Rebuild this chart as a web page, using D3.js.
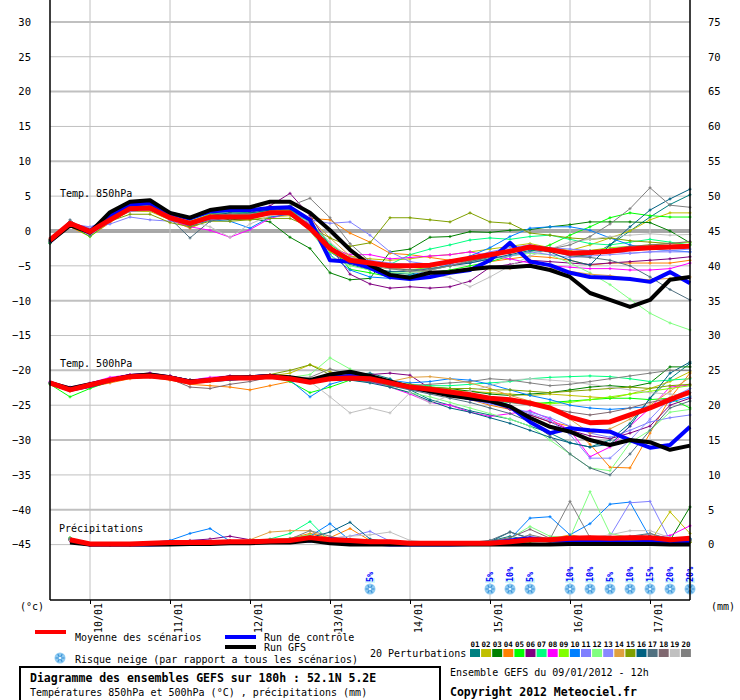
<!DOCTYPE html>
<html>
<head>
<meta charset="utf-8">
<script src="https://cdn.jsdelivr.net/npm/d3@7"></script>
<style>
  body { margin: 0; background: #fff; }
  text { font-family: "DejaVu Sans Mono", monospace; }
</style>
</head>
<body>
<div id="chart"></div>
<script>
const width = 740;
const height = 700;

// Time steps: every 6h from run start (09/01 12h) to +192h
const hours = d3.range(0, 193, 6);
const dayHours = [12, 36, 60, 84, 108, 132, 156, 180];
const dayLabels = ["10/01", "11/01", "12/01", "13/01", "14/01", "15/01", "16/01", "17/01"];

const memberColors = ["#008080", "#c0c000", "#008000", "#ff8000", "#00ff00", "#800080", "#00ff80",
    "#ff00ff", "#80ff00", "#0080ff", "#8080ff", "#80ff80", "#8888ff", "#e0a040", "#80a000",
    "#006080", "#507080", "#806870", "#c0c0c0", "#808080"];

// Temp 850hPa
const t850Mean = [-1.3, 1.1, -0.1, 1.6, 3.2, 3.3, 1.9, 1.1, 2.0, 2.0, 2.0, 2.6, 2.6, 0.4, -2.5, -4.2, -4.6, -5.0, -5.0, -4.9, -4.4, -3.9, -3.4, -2.9, -2.3, -2.7, -3.2, -3.1, -2.9, -2.6, -2.4, -2.3, -2.2];
const t850Control = [-1.5, 1.0, 0.0, 2.2, 3.8, 4.0, 2.5, 1.8, 2.8, 3.0, 3.0, 3.3, 3.4, 1.6, -4.2, -4.4, -5.3, -6.6, -6.9, -6.6, -6.0, -5.6, -4.2, -1.7, -4.4, -4.9, -6.0, -6.6, -6.7, -6.9, -7.3, -5.9, -7.5];
const t850Gfs = [-1.5, 0.8, -0.2, 2.7, 4.2, 4.4, 2.6, 1.9, 3.0, 3.4, 3.4, 4.2, 4.2, 2.6, 0.1, -2.7, -4.9, -6.3, -6.7, -6.0, -5.9, -5.5, -5.2, -5.2, -5.0, -5.6, -6.6, -8.9, -9.9, -10.9, -9.9, -7.0, -6.6];
const t850Members = [
    [-1.6, 1.2, 0.2, 2.2, 3.8, 4.0, 2.2, 1.0, 2.5, 2.6, 2.4, 3.0, 3.0, 1.0, -3.0, -4.8, -5.6, -6.0, -6.2, -5.6, -5.0, -4.4, -3.6, -3.0, -2.6, -2.8, -3.4, -3.6, -2.0, 0.0, 2.0, 3.8, 5.2],
    [-1.2, 0.8, -0.3, 1.4, 2.8, 2.8, 1.6, 0.6, 1.8, 1.8, 1.6, 2.0, 2.2, 0.8, -2.0, -3.6, -4.0, -4.2, -4.0, -3.6, -3.4, -3.0, -2.6, -2.2, -1.8, -2.4, -2.8, -2.0, -1.0, 0.0, 1.6, 2.6, 2.6],
    [-1.4, 1.0, 0.0, 1.8, 3.4, 3.6, 2.0, 1.4, 2.0, 1.6, 1.8, 1.3, -0.9, -2.5, -6.0, -7.0, -6.8, -3.0, -2.6, -0.9, -0.8, -0.1, -0.2, 0.1, 0.2, 0.6, 0.9, 1.3, 1.3, 1.3, 1.2, 0.0, -1.7],
    [-1.6, 0.6, -0.8, 1.2, 3.0, 3.4, 1.6, 0.4, 1.6, 2.0, 2.2, 2.6, 2.8, 1.8, 1.6, -0.3, -1.6, -3.2, -3.4, -3.8, -4.2, -4.0, -4.4, -4.0, -3.6, -3.8, -4.2, -4.9, -4.6, -4.6, -4.6, -4.6, -4.2],
    [-1.8, 0.8, -0.8, 1.4, 3.4, 4.0, 2.4, 1.6, 2.8, 3.0, 3.0, 3.0, 3.6, 1.5, -2.0, -5.5, -6.0, -6.6, -6.4, -6.0, -5.6, -5.0, -4.4, -3.6, -3.0, -2.0, -0.6, 0.6, 1.9, 2.6, 2.2, 2.0, 2.0],
    [-1.4, 1.2, 0.4, 2.0, 3.4, 3.4, 1.8, 0.8, 1.8, 2.0, 2.6, 3.6, 5.4, 2.2, -2.2, -6.2, -7.6, -8.2, -8.0, -8.2, -8.0, -7.2, -5.2, -4.8, -4.2, -4.4, -4.6, -4.8, -4.6, -4.4, -4.2, -4.0, -3.7],
    [-1.6, 1.0, -0.2, 1.8, 3.2, 3.4, 2.0, 1.6, 2.6, 2.8, 2.6, 2.8, 3.0, 1.2, -1.8, -4.0, -5.0, -4.8, -3.4, -2.6, -2.0, -1.3, -1.0, -1.2, -0.8, -0.6, -1.2, -1.8, -2.0, -1.6, -1.2, -1.6, -2.0],
    [-1.5, 0.8, -0.6, 1.4, 3.0, 3.2, 1.6, 0.6, 0.1, -0.9, 0.2, 1.8, 2.6, 1.0, -2.5, -3.4, -3.4, -4.0, -3.8, -3.6, -3.4, -3.0, -3.6, -4.0, -4.6, -5.0, -5.2, -5.4, -5.4, -5.6, -5.6, -5.4, -4.6],
    [-1.3, 1.2, 0.2, 1.8, 3.2, 3.4, 2.2, 1.4, 2.4, 2.4, 2.4, 2.8, 3.0, 0.6, -3.0, -4.4, -5.0, -5.4, -5.6, -5.2, -4.6, -4.0, -3.4, -2.8, -2.4, -2.6, -3.0, -2.8, -2.4, -2.2, -2.0, -1.8, -1.6],
    [-1.4, 1.0, 0.0, 2.0, 3.6, 3.8, 2.2, 0.6, 1.6, 1.4, 0.4, 2.0, 2.4, 0.4, -3.4, -5.6, -6.6, -6.8, -6.4, -5.6, -4.8, -3.6, -2.4, -0.8, 0.4, 0.6, 0.6, 0.1, -1.0, -2.0, -2.6, -2.8, -3.0],
    [-1.2, 0.6, 0.4, 1.0, 2.0, 1.6, 1.4, 1.0, 1.6, 1.8, 2.2, 2.6, 2.6, 1.6, 1.1, 1.3, -0.6, -3.0, -4.4, -4.8, -4.4, -3.8, -3.0, -2.4, -2.0, -2.4, -2.6, -2.8, -3.0, -3.2, -3.0, -3.0, -3.0],
    [-1.6, 1.0, -0.2, 1.6, 3.0, 3.2, 2.0, 1.2, 2.2, 2.4, 2.4, 2.6, 2.6, 0.0, -3.6, -5.0, -5.6, -6.0, -6.0, -5.6, -5.0, -4.4, -4.0, -3.6, -3.2, -3.4, -4.6, -6.0, -7.7, -9.8, -11.8, -13.2, -14.2],
    [-1.2, 1.0, 0.6, 1.6, 2.8, 3.0, 1.8, 1.2, 2.0, 2.0, 2.2, 2.6, 2.6, 0.6, -2.4, -3.8, -4.2, -4.6, -4.8, -5.0, -4.8, -4.6, -4.0, -3.6, -3.0, -3.4, -3.8, -3.6, -3.4, -3.2, -3.0, -2.8, -2.6],
    [-1.4, 0.8, -0.4, 1.6, 3.2, 3.4, 1.8, 1.0, 2.0, 2.2, 2.4, 2.8, 3.2, 1.8, -1.0, -3.6, -4.6, -5.2, -5.6, -5.8, -5.8, -5.6, -5.4, -5.4, -5.0, -5.4, -5.8, -6.2, -6.4, -6.8, -7.0, -6.8, -6.6],
    [-1.2, 0.8, 0.0, 1.4, 2.4, 2.4, 1.2, 0.6, 1.4, 1.4, 1.6, 1.8, 1.8, 0.6, -1.0, -2.2, -1.7, 1.9, 1.9, 1.6, 1.3, 2.6, 1.3, 1.1, -0.3, -0.6, -1.0, -1.2, -1.0, -1.4, -1.6, -1.8, -2.0],
    [-1.6, 1.2, 0.0, 2.0, 3.6, 3.8, 2.2, 1.2, 2.2, 2.6, 2.6, 3.0, 3.2, 1.4, -2.4, -4.6, -5.4, -5.8, -5.8, -5.4, -5.0, -4.6, -4.0, -3.4, -2.8, -3.0, -4.2, -4.9, -2.0, 0.6, 3.0, 4.6, 6.0],
    [-1.8, 1.6, -0.6, 1.8, 3.4, 3.6, 1.8, -1.0, 1.4, 2.0, 2.2, 2.6, 2.8, 0.8, -2.2, -4.4, -5.0, -5.4, -5.6, -5.4, -5.0, -4.4, -3.8, -3.0, -2.2, -2.8, -3.6, -3.8, -4.2, -5.0, -6.6, -8.4, -9.9],
    [-1.4, 1.0, 0.2, 1.8, 3.2, 3.4, 2.0, 1.0, 2.0, 2.2, 2.2, 2.6, 2.8, 0.8, -2.6, -4.2, -4.8, -5.2, -5.2, -5.0, -4.6, -4.2, -3.6, -3.0, -2.6, -2.8, -3.2, -3.0, -2.6, -2.2, -2.0, -1.8, -1.5],
    [-1.3, 0.8, 0.4, 1.6, 3.0, 3.2, 2.4, 1.4, 0.6, -0.9, 1.0, 2.2, 2.6, 1.2, -1.6, -4.0, -4.8, -5.4, -5.8, -6.2, -6.7, -8.0, -6.6, -5.0, -3.6, -2.6, -1.6, -1.2, -0.8, -0.6, -0.4, -0.6, -0.5],
    [-1.5, 1.2, 0.0, 2.0, 3.6, 4.2, 2.2, 1.0, 2.2, 2.4, 2.4, 2.8, 3.6, 4.7, 1.9, -1.8, -4.4, -5.4, -5.8, -5.6, -5.0, -4.2, -3.6, -3.0, -2.6, -2.6, -2.0, -0.8, 1.0, 3.2, 6.2, 3.7, 3.4]
];

// Temp 500hPa
const t500Mean = [-21.8, -22.8, -22.1, -21.4, -20.9, -20.8, -21.1, -21.7, -21.4, -21.1, -21.1, -20.9, -21.2, -21.7, -21.2, -21.1, -21.2, -21.8, -22.4, -22.7, -23.1, -23.5, -24.0, -24.2, -24.7, -25.4, -26.7, -27.5, -27.4, -26.4, -25.4, -24.2, -23.1];
const t500Control = [-21.8, -22.8, -22.2, -21.4, -20.8, -20.8, -21.0, -21.6, -21.4, -21.2, -21.0, -20.8, -21.2, -21.6, -21.0, -20.8, -21.2, -21.8, -22.4, -22.8, -23.4, -24.0, -24.4, -25.2, -27.4, -29.0, -28.3, -28.6, -28.8, -30.0, -31.1, -30.7, -28.1];
const t500Gfs = [-21.8, -22.6, -22.0, -21.4, -20.8, -20.6, -21.0, -21.6, -21.4, -21.0, -21.0, -20.8, -21.0, -21.4, -20.6, -20.2, -20.8, -21.6, -22.4, -23.0, -23.6, -24.0, -24.4, -25.2, -26.8, -28.1, -28.8, -30.0, -30.7, -30.0, -30.3, -31.4, -30.8];
const t500Members = [
    [-21.8, -22.6, -22.0, -21.2, -20.8, -20.6, -21.0, -21.4, -21.2, -20.8, -21.0, -20.8, -21.0, -21.6, -21.2, -20.6, -20.4, -21.2, -22.8, -24.2, -25.0, -25.8, -26.4, -27.0, -28.0, -29.0, -30.4, -31.0, -30.0, -27.6, -24.0, -21.2, -19.0],
    [-21.8, -22.8, -22.2, -21.4, -21.0, -20.8, -21.2, -21.6, -21.4, -21.2, -21.0, -20.8, -20.4, -19.2, -20.2, -21.0, -21.4, -22.0, -22.4, -22.6, -22.8, -23.0, -23.2, -23.4, -23.6, -23.4, -23.6, -23.8, -24.0, -23.4, -22.6, -21.6, -20.2],
    [-21.8, -22.6, -22.0, -21.4, -20.8, -20.6, -20.8, -21.4, -21.2, -21.0, -21.0, -20.8, -21.0, -21.4, -21.2, -21.4, -21.6, -22.0, -22.2, -22.4, -22.6, -23.0, -23.4, -23.6, -23.4, -23.2, -22.8, -22.4, -22.2, -22.4, -21.8, -19.5, -19.5],
    [-21.8, -23.0, -22.4, -21.8, -21.2, -21.0, -21.4, -22.0, -22.2, -22.4, -22.8, -22.2, -21.6, -21.4, -21.0, -21.2, -21.6, -22.2, -22.6, -23.0, -23.6, -24.2, -25.0, -25.6, -26.4, -27.4, -28.0, -30.6, -33.9, -34.0, -29.0, -24.0, -20.4],
    [-22.0, -23.8, -22.6, -21.6, -21.0, -20.8, -21.2, -21.8, -21.6, -21.4, -21.2, -21.0, -21.6, -23.2, -22.4, -21.4, -21.4, -22.2, -22.6, -23.0, -23.6, -24.0, -24.4, -24.6, -24.8, -24.6, -24.4, -24.2, -24.0, -24.0, -24.2, -24.0, -25.4],
    [-21.8, -22.6, -22.0, -21.2, -20.6, -20.4, -20.8, -21.4, -21.2, -21.0, -20.8, -20.6, -21.0, -21.4, -21.0, -20.8, -20.6, -20.4, -20.7, -22.6, -23.2, -23.8, -24.6, -25.6, -26.4, -27.4, -28.6, -29.4, -29.8, -29.0, -28.0, -25.0, -24.0],
    [-21.8, -22.8, -22.0, -21.4, -20.8, -20.6, -21.0, -21.6, -21.4, -21.0, -21.0, -20.8, -21.0, -21.4, -21.0, -21.0, -21.4, -21.8, -22.0, -22.2, -22.2, -22.0, -21.8, -21.6, -21.2, -21.0, -20.9, -20.8, -20.9, -21.2, -21.6, -21.4, -21.2],
    [-21.6, -22.4, -21.8, -21.0, -20.6, -20.4, -20.8, -21.4, -21.0, -20.8, -20.8, -20.6, -21.0, -21.4, -21.2, -21.2, -21.6, -22.4, -23.4, -24.6, -25.0, -26.0, -26.6, -26.2, -25.8, -27.0, -28.6, -32.4, -31.0, -28.0, -25.4, -22.4, -22.1],
    [-21.8, -22.6, -22.0, -21.4, -20.8, -20.8, -21.0, -21.6, -21.4, -21.0, -21.0, -20.8, -21.0, -21.6, -21.0, -21.0, -21.2, -21.8, -22.4, -22.8, -23.2, -23.6, -24.0, -24.4, -24.6, -24.8, -24.6, -24.2, -23.8, -23.4, -23.0, -22.6, -22.2],
    [-21.8, -22.8, -22.2, -21.4, -21.0, -20.8, -21.0, -21.6, -21.4, -21.2, -21.0, -20.8, -21.4, -23.8, -22.0, -21.2, -21.0, -21.4, -21.8, -21.6, -21.2, -21.4, -22.0, -22.8, -23.6, -24.2, -25.0, -25.4, -25.6, -25.4, -25.2, -24.6, -23.8],
    [-21.8, -22.6, -22.0, -21.4, -20.8, -20.6, -21.0, -21.6, -21.4, -21.2, -21.0, -20.8, -21.0, -21.6, -21.2, -21.0, -21.2, -22.0, -22.8, -23.2, -23.6, -24.2, -24.8, -25.4, -26.0, -26.8, -28.0, -29.0, -29.6, -28.6, -27.4, -26.8, -26.4],
    [-21.8, -22.8, -22.2, -21.4, -20.8, -20.6, -21.0, -21.6, -21.4, -21.2, -21.0, -20.8, -21.0, -20.6, -18.2, -19.8, -21.2, -22.4, -23.2, -23.8, -24.6, -25.4, -26.2, -27.0, -28.0, -30.0, -32.0, -34.0, -34.4, -30.4, -28.6, -26.0, -25.6],
    [-21.8, -22.6, -22.0, -21.4, -20.8, -20.6, -21.0, -21.6, -21.4, -21.0, -21.0, -20.8, -21.0, -21.4, -21.0, -21.0, -21.4, -22.0, -22.6, -23.0, -23.6, -24.2, -24.8, -25.4, -26.2, -27.2, -29.2, -32.6, -32.6, -30.0, -27.0, -24.0, -22.6],
    [-21.8, -22.8, -22.2, -21.4, -20.8, -20.6, -21.0, -21.6, -21.6, -21.4, -21.2, -21.0, -21.2, -21.6, -21.0, -21.0, -21.2, -21.6, -21.0, -20.9, -21.2, -21.8, -22.6, -23.6, -24.4, -25.4, -27.0, -29.0, -28.4, -27.0, -25.0, -23.0, -21.0],
    [-21.8, -22.6, -22.0, -21.4, -20.8, -20.6, -21.0, -21.4, -21.2, -21.0, -20.8, -20.6, -20.0, -19.2, -20.6, -21.0, -21.2, -21.6, -22.0, -22.4, -22.6, -22.6, -22.8, -22.8, -23.0, -23.2, -23.0, -22.8, -22.6, -22.4, -22.6, -22.2, -22.0],
    [-21.8, -22.8, -22.2, -21.4, -20.8, -20.6, -21.0, -21.6, -21.4, -21.2, -21.0, -20.8, -21.0, -21.6, -21.4, -21.4, -21.8, -22.4, -23.2, -24.4, -25.4, -26.0, -26.8, -27.6, -28.6, -29.6, -30.4, -31.0, -30.6, -28.0, -24.0, -20.4, -18.8],
    [-21.8, -22.8, -22.2, -21.6, -21.0, -20.8, -21.2, -21.8, -21.6, -21.2, -21.0, -20.8, -21.0, -21.6, -21.2, -21.2, -21.6, -22.2, -22.8, -23.4, -24.0, -24.6, -25.4, -26.2, -27.4, -29.4, -32.0, -34.0, -35.0, -32.0, -28.6, -25.4, -24.4],
    [-21.8, -22.8, -22.2, -21.4, -20.8, -20.8, -21.2, -22.4, -22.6, -22.0, -21.6, -21.0, -21.2, -21.6, -21.0, -21.0, -21.4, -22.0, -22.6, -23.0, -23.4, -23.8, -24.2, -24.6, -25.0, -25.4, -26.0, -26.4, -26.0, -25.4, -24.6, -24.0, -23.2],
    [-21.8, -22.6, -22.0, -21.4, -20.8, -20.6, -21.0, -21.6, -21.4, -21.0, -21.0, -20.8, -21.0, -21.6, -23.8, -26.1, -25.4, -26.1, -23.2, -24.7, -23.6, -23.0, -22.2, -21.4, -21.2, -21.4, -21.6, -22.0, -22.4, -22.8, -23.2, -23.4, -23.6],
    [-21.8, -22.8, -22.2, -21.4, -20.8, -20.6, -21.0, -21.6, -21.4, -21.0, -21.0, -20.8, -21.0, -21.0, -19.8, -20.6, -21.2, -21.8, -22.2, -22.0, -21.8, -21.6, -21.2, -21.4, -21.8, -22.2, -22.0, -21.6, -21.2, -20.8, -20.4, -20.0, -20.0]
];

// Precipitation (mm), no value at run start
const precMean = [null, 0.7, 0.1, 0.1, 0.1, 0.2, 0.3, 0.3, 0.3, 0.4, 0.4, 0.5, 0.6, 1.0, 0.7, 0.6, 0.4, 0.4, 0.2, 0.2, 0.2, 0.2, 0.2, 0.4, 0.7, 0.7, 0.9, 1.0, 0.9, 1.0, 1.0, 0.7, 0.9];
const precControl = [null, 0.6, 0, 0, 0, 0, 0.1, 0.2, 0.3, 0.3, 0.4, 0.4, 0.5, 0.6, 0.8, 0.4, 0.2, 0, 0, 0, 0, 0.1, 0.2, 0.6, 0.9, 0.6, 0.5, 0.4, 0.4, 0.3, 0.4, 0.2, 0.3];
const precGfs = [null, 0.3, 0, 0, 0, 0, 0, 0.1, 0.1, 0.2, 0.2, 0.3, 0.3, 0.6, 0.2, 0, 0, 0, 0, 0, 0, 0, 0, 0, 0, 0, 0.1, 0.1, 0.1, 0.1, 0.1, 0, 0];
const precMembers = [
    [null, 0.8, 0, 0, 0, 0.1, 0.2, 0.3, 0.4, 0.2, 0.3, 0.5, 0.6, 1.0, 0.8, 0.4, 0.3, 0.2, 0.1, 0.1, 0.2, 0.3, 0.5, 1.2, 0.6, 0.4, 0.8, 0.6, 1.0, 0.4, 0.6, 0.3, 0.8],
    [null, 0.6, 0, 0, 0, 0.2, 0.3, 0.2, 0.2, 0.4, 0.4, 0.6, 0.5, 0.7, 0.5, 0.3, 0.2, 0.1, 0, 0, 0.1, 0.1, 0.2, 0.3, 0.5, 0.4, 0.6, 0.8, 0.5, 0.7, 0.4, 4.7, 1.6],
    [null, 0.7, 0, 0, 0.1, 0.1, 0.2, 0.3, 0.3, 0.5, 0.6, 0.4, 0.6, 1.2, 0.4, 0.3, 0.2, 0.1, 0.1, 0.2, 0.1, 0.2, 0.3, 0.2, 0.6, 0.5, 0.8, 0.6, 0.6, 0.8, 0.5, 0.6, 5.4],
    [null, 0.9, 0.1, 0, 0, 0.3, 0.4, 0.3, 0.5, 0.6, 0.4, 0.7, 0.9, 1.6, 1.0, 2.3, 0.6, 0.3, 0.2, 0.1, 0.1, 0.2, 0.3, 0.4, 0.5, 0.8, 1.4, 0.9, 1.2, 0.7, 0.5, 0.4, 0.3],
    [null, 1.0, 0, 0, 0, 0.2, 0.3, 0.4, 0.2, 0.3, 0.5, 0.5, 0.8, 1.4, 0.3, 0.2, 0.2, 0.2, 0.1, 0.2, 0.2, 0.1, 0.1, 0.2, 0.4, 0.5, 0.4, 0.3, 0.6, 0.4, 0.3, 0.2, 0.4],
    [null, 0.7, 0, 0, 0, 0.3, 0.5, 0.6, 0.8, 1.2, 0.7, 0.6, 0.5, 0.9, 0.6, 0.4, 0.2, 0.1, 0.2, 0.2, 0.1, 0.2, 0.3, 0.6, 0.9, 0.7, 0.6, 0.8, 0.5, 0.9, 0.8, 0.6, 0.5],
    [null, 0.8, 0, 0, 0, 0.1, 0.2, 0.3, 0.3, 0.4, 0.3, 0.8, 1.6, 3.3, 0.4, 0.3, 0.2, 0.2, 0.1, 0.1, 0.2, 0.2, 0.3, 0.5, 0.6, 0.8, 1.0, 0.7, 0.8, 0.6, 0.9, 0.7, 0.6],
    [null, 0.6, 0, 0, 0, 0.2, 0.4, 0.4, 0.6, 0.5, 0.4, 0.5, 0.6, 0.8, 0.6, 0.5, 0.3, 0.2, 0.2, 0.1, 0.1, 0.2, 0.2, 0.3, 0.5, 0.6, 0.9, 1.0, 0.7, 0.8, 1.0, 1.3, 2.7],
    [null, 0.7, 0, 0, 0, 0.1, 0.2, 0.3, 0.3, 0.4, 0.5, 0.5, 0.7, 1.2, 0.9, 0.4, 0.3, 0.2, 0.1, 0.1, 0.1, 0.1, 0.2, 0.4, 0.6, 0.5, 0.7, 0.6, 0.6, 0.5, 0.7, 0.4, 0.6],
    [null, 0.8, 0, 0, 0.1, 0.3, 0.6, 1.6, 2.3, 0.5, 0.4, 0.6, 0.8, 1.2, 3.0, 0.6, 0.4, 0.2, 0.1, 0.1, 0.2, 0.3, 0.4, 0.8, 3.8, 4.0, 1.4, 3.0, 5.8, 6.1, 1.0, 0.6, 0.8],
    [null, 0.6, 0, 0, 0, 0.1, 0.2, 0.2, 0.3, 0.4, 0.3, 0.5, 0.6, 0.8, 0.9, 1.2, 1.9, 0.5, 0.2, 0.1, 0.1, 0.1, 0.2, 0.4, 0.7, 0.9, 0.8, 1.0, 1.2, 6.0, 6.2, 0.6, 0.8],
    [null, 0.9, 0, 0, 0, 0.2, 0.3, 0.3, 0.4, 0.3, 0.4, 0.6, 0.9, 1.4, 0.3, 0.2, 0.1, 0.1, 0.1, 0.2, 0.2, 0.3, 0.4, 0.9, 2.6, 1.2, 1.0, 7.6, 1.6, 1.0, 0.8, 0.6, 0.4],
    [null, 0.7, 0, 0, 0, 0.1, 0.2, 0.3, 0.4, 0.3, 0.4, 0.4, 0.5, 0.7, 0.8, 0.6, 0.4, 0.3, 0.2, 0.1, 0.1, 0.2, 0.3, 0.5, 0.6, 0.7, 0.6, 0.8, 0.7, 0.9, 0.6, 0.5, 0.4],
    [null, 0.8, 0, 0, 0, 0.2, 0.4, 0.5, 0.6, 0.5, 0.7, 1.8, 2.0, 2.0, 0.6, 0.4, 0.3, 0.2, 0.1, 0.1, 0.1, 0.2, 0.3, 0.4, 0.6, 0.5, 0.7, 0.9, 0.8, 0.6, 0.7, 0.5, 0.4],
    [null, 0.6, 0, 0, 0, 0.1, 0.2, 0.2, 0.3, 0.4, 0.4, 0.5, 0.6, 0.9, 0.6, 0.3, 0.2, 0.1, 0.1, 0.1, 0.1, 0.1, 0.2, 0.3, 0.4, 0.5, 0.6, 0.4, 0.5, 0.6, 0.5, 0.4, 0.3],
    [null, 0.7, 0, 0, 0, 0.1, 0.3, 0.4, 0.3, 0.5, 0.4, 0.6, 0.8, 1.0, 1.8, 3.2, 0.8, 0.3, 0.2, 0.1, 0.1, 0.2, 0.4, 1.8, 0.9, 0.8, 1.2, 1.1, 1.0, 0.9, 1.2, 1.0, 0.8],
    [null, 0.9, 0, 0, 0, 0.2, 0.3, 0.4, 0.4, 0.4, 0.5, 0.6, 0.7, 1.0, 0.7, 0.5, 0.3, 0.2, 0.2, 0.2, 0.2, 0.3, 0.6, 1.8, 0.9, 0.7, 0.8, 1.0, 0.9, 1.2, 1.6, 0.8, 0.6],
    [null, 0.7, 0, 0, 0, 0.1, 0.2, 0.3, 0.3, 0.4, 0.4, 0.5, 0.7, 1.2, 0.8, 0.6, 0.4, 0.3, 0.2, 0.2, 0.1, 0.2, 0.5, 1.0, 2.2, 0.9, 0.7, 0.6, 0.8, 0.7, 0.6, 0.9, 0.7],
    [null, 0.6, 0, 0, 0, 0.1, 0.2, 0.2, 0.3, 0.3, 0.4, 0.4, 0.5, 0.8, 0.9, 1.2, 1.4, 1.8, 0.6, 0.3, 0.2, 0.2, 0.3, 0.4, 0.6, 0.5, 0.8, 1.0, 1.4, 2.0, 2.0, 1.0, 0.6],
    [null, 0.8, 0, 0, 0, 0.2, 0.3, 0.3, 0.4, 0.4, 0.5, 0.6, 0.8, 2.0, 1.2, 0.5, 0.3, 0.2, 0.1, 0.1, 0.2, 0.2, 0.3, 0.6, 1.4, 0.8, 6.2, 1.0, 0.8, 0.9, 1.6, 0.7, 0.6]
];

// Snow risk (hour, % of scenarios)
const snowHours = [96, 132, 138, 144, 156, 162, 168, 174, 180, 186, 192];
const snowPct = [5, 5, 10, 5, 10, 10, 5, 10, 15, 20, 20];

const svg = d3.select("#chart")
    .append("svg")
    .attr("width", width)
    .attr("height", height)
    .style("display", "block");

svg.append("rect").attr("width", width).attr("height", height).attr("fill", "#fff");

const x = d3.scaleLinear().domain([0, 192]).range([50, 690]);
const y = d3.scaleLinear().domain([-45, 30]).range([544.6, 21.9]);
// precip shares the scale: 0 mm sits on the -45 line
const yp = d => y(-45 + d);

// horizontal grid
const gridVals = d3.range(-45, 36, 5);
svg.append("g")
    .selectAll("line")
    .data(gridVals.filter(d => d !== 0))
    .join("line")
    .attr("x1", 50).attr("x2", 690)
    .attr("y1", d => y(d)).attr("y2", d => y(d))
    .attr("stroke", "#c0c0c0")
    .attr("stroke-width", d => d % 10 === 0 ? 2 : 1);

// zero line drawn doubled
svg.append("line").attr("x1", 50).attr("x2", 690).attr("y1", y(0)).attr("y2", y(0))
    .attr("stroke", "#8c8c8c").attr("stroke-width", 3.5);
svg.append("line").attr("x1", 50).attr("x2", 690).attr("y1", y(0)).attr("y2", y(0))
    .attr("stroke", "#c4c4c4").attr("stroke-width", 1);

// vertical grid at each day 00h, with small ticks below the axis
svg.append("g")
    .selectAll("line")
    .data(dayHours)
    .join("line")
    .attr("x1", d => x(d)).attr("x2", d => x(d))
    .attr("y1", 0).attr("y2", 600)
    .attr("stroke", "#c0c0c0")
    .attr("stroke-width", 1);

// labels of the panels
const labelFont = 10;
svg.append("text").attr("x", 60).attr("y", 197).attr("font-size", labelFont).text("Temp. 850hPa");
svg.append("text").attr("x", 60).attr("y", 367).attr("font-size", labelFont).text("Temp. 500hPa");
svg.append("text").attr("x", 59).attr("y", 532).attr("font-size", labelFont).text("Précipitations");

// series drawing
const tempLine = d3.line()
    .defined(d => d != null)
    .x((d, i) => x(hours[i]))
    .y(d => y(d));

const precLine = d3.line()
    .defined(d => d != null)
    .x((d, i) => x(hours[i]))
    .y(d => yp(d));

function drawMembers(members, lineGen, yFn) {
    const g = svg.append("g");
    members.forEach((vals, k) => {
        g.append("path")
            .attr("d", lineGen(vals))
            .attr("fill", "none")
            .attr("stroke", memberColors[k])
            .attr("stroke-width", 1);
        g.selectAll(null)
            .data(vals.map((v, i) => [hours[i], v]).filter(p => p[1] != null))
            .join("path")
            .attr("d", "M-1.5,0h3M0,-1.5v3")
            .attr("transform", p => "translate(" + x(p[0]) + "," + yFn(p[1]) + ")")
            .attr("stroke", memberColors[k])
            .attr("stroke-width", 1);
    });
}

function drawMain(vals, lineGen, color, w) {
    svg.append("path")
        .attr("d", lineGen(vals))
        .attr("fill", "none")
        .attr("stroke", color)
        .attr("stroke-width", w)
        .attr("stroke-linejoin", "round");
}

drawMembers(t850Members, tempLine, y);
drawMembers(t500Members, tempLine, y);
drawMembers(precMembers, precLine, yp);

[[t850Control, t850Gfs, t850Mean], [t500Control, t500Gfs, t500Mean]].forEach(s => {
    drawMain(s[0], tempLine, "#0000ff", 4);
    drawMain(s[1], tempLine, "#000000", 4);
});
drawMain(precControl, precLine, "#0000ff", 4);
drawMain(precGfs, precLine, "#000000", 4);
drawMain(t850Mean, tempLine, "#ff0000", 5);
drawMain(t500Mean, tempLine, "#ff0000", 5);
drawMain(precMean, precLine, "#ff0000", 5);

// snowflake icon
function snowIcon(g, cx, cy) {
    const s = g.append("g").attr("transform", "translate(" + cx + "," + cy + ")");
    s.append("circle").attr("r", 5.5).attr("fill", "#8fcbf2");
    [0, 60, 120].forEach(a => {
        s.append("line")
            .attr("x1", -4.5).attr("x2", 4.5).attr("y1", 0).attr("y2", 0)
            .attr("transform", "rotate(" + a + ")")
            .attr("stroke", "#3d93d6").attr("stroke-width", 1.1);
    });
    s.append("circle").attr("r", 1.3).attr("fill", "#e8f6ff");
}

const snowG = svg.append("g");
snowHours.forEach((h, i) => {
    const cx = x(h);
    snowG.append("rect")
        .attr("x", cx - 5).attr("y", 578).attr("width", 10).attr("height", 5)
        .attr("fill", "#d4f8fc");
    snowG.append("text")
        .attr("transform", "translate(" + (cx + 3) + ",582) rotate(-90)")
        .attr("font-size", 8.5)
        .attr("font-weight", "bold")
        .attr("fill", "#0000ff")
        .text(snowPct[i] + "%");
    snowIcon(snowG, cx, 589);
});

// axes
const yAxisLeft = d3.axisLeft(y).tickValues(d3.range(-45, 31, 5)).tickSize(0).tickPadding(19);
const gl = svg.append("g").attr("transform", "translate(50,0)").call(yAxisLeft);
gl.select(".domain").remove();
gl.selectAll("text").attr("font-family", "DejaVu Sans Mono").attr("font-size", 10.5).attr("fill", "#000");

const yAxisRight = d3.axisRight(y).tickValues(d3.range(-45, 31, 5)).tickSize(0).tickPadding(18)
    .tickFormat(d => d + 45);
const gr = svg.append("g").attr("transform", "translate(690,0)").call(yAxisRight);
gr.select(".domain").remove();
gr.selectAll("text").attr("font-family", "DejaVu Sans Mono").attr("font-size", 10.5).attr("fill", "#000");

const xAxis = d3.axisBottom(x).tickValues(dayHours).tickSize(4).tickFormat((d, i) => dayLabels[i]);
const gx = svg.append("g").attr("transform", "translate(0,600)").call(xAxis);
gx.select(".domain").remove();
gx.selectAll(".tick line").attr("stroke", "#000");
gx.selectAll("text")
    .attr("font-family", "DejaVu Sans Mono")
    .attr("font-size", 10)
    .attr("fill", "#000")
    .attr("transform", "rotate(-90)")
    .attr("text-anchor", "end")
    .attr("x", -3)
    .attr("y", 11)
    .attr("dy", 0);

// frame
svg.append("line").attr("x1", 50).attr("x2", 50).attr("y1", 0).attr("y2", 600).attr("stroke", "#000").attr("stroke-width", 1.5);
svg.append("line").attr("x1", 690).attr("x2", 690).attr("y1", 0).attr("y2", 600).attr("stroke", "#000").attr("stroke-width", 1.5);
svg.append("line").attr("x1", 50).attr("x2", 690).attr("y1", 600).attr("y2", 600).attr("stroke", "#000").attr("stroke-width", 1.5);

svg.append("text").attr("x", 20).attr("y", 610).attr("font-size", 10).text("(°c)");
svg.append("text").attr("x", 711).attr("y", 610).attr("font-size", 10).text("(mm)");

// legend
const leg = svg.append("g");
leg.append("rect").attr("x", 35).attr("y", 630).attr("width", 31).attr("height", 4).attr("fill", "#ff0000");
leg.append("text").attr("x", 75).attr("y", 641).attr("font-size", 10).text("Moyenne des scénarios");
leg.append("rect").attr("x", 225).attr("y", 635).attr("width", 31).attr("height", 4).attr("fill", "#0000ff");
leg.append("text").attr("x", 264).attr("y", 641).attr("font-size", 10).text("Run de contrôle");
leg.append("rect").attr("x", 225).attr("y", 645).attr("width", 31).attr("height", 4).attr("fill", "#000000");
leg.append("text").attr("x", 264).attr("y", 651).attr("font-size", 10).text("Run GFS");
snowIcon(leg, 60, 658);
leg.append("text").attr("x", 75).attr("y", 663).attr("font-size", 10).text("Risque neige (par rapport a tous les scénarios)");
leg.append("text").attr("x", 370).attr("y", 657).attr("font-size", 10).text("20 Perturbations");

memberColors.forEach((c, k) => {
    const bx = 470 + k * 11.1;
    leg.append("rect").attr("x", bx).attr("y", 649).attr("width", 10).attr("height", 8).attr("fill", c);
    leg.append("text").attr("x", bx + 5).attr("y", 647).attr("text-anchor", "middle")
        .attr("font-size", 7.5).attr("font-weight", "bold")
        .text(String(k + 1).padStart(2, "0"));
});

// title box
svg.append("rect").attr("x", 20).attr("y", 667).attr("width", 420).attr("height", 40)
    .attr("fill", "none").attr("stroke", "#000").attr("stroke-width", 2);
svg.append("text").attr("x", 30).attr("y", 682).attr("font-size", 11.5).attr("font-weight", "bold")
    .text("Diagramme des ensembles GEFS sur 180h : 52.1N 5.2E");
svg.append("text").attr("x", 30).attr("y", 696).attr("font-size", 10)
    .text("Températures 850hPa et 500hPa (°C) , précipitations (mm)");
svg.append("text").attr("x", 450).attr("y", 676).attr("font-size", 10)
    .text("Ensemble GEFS du 09/01/2012 - 12h");
svg.append("text").attr("x", 450).attr("y", 696).attr("font-size", 11.5).attr("font-weight", "bold")
    .text("Copyright 2012 Meteociel.fr");
</script>
</body>
</html>
